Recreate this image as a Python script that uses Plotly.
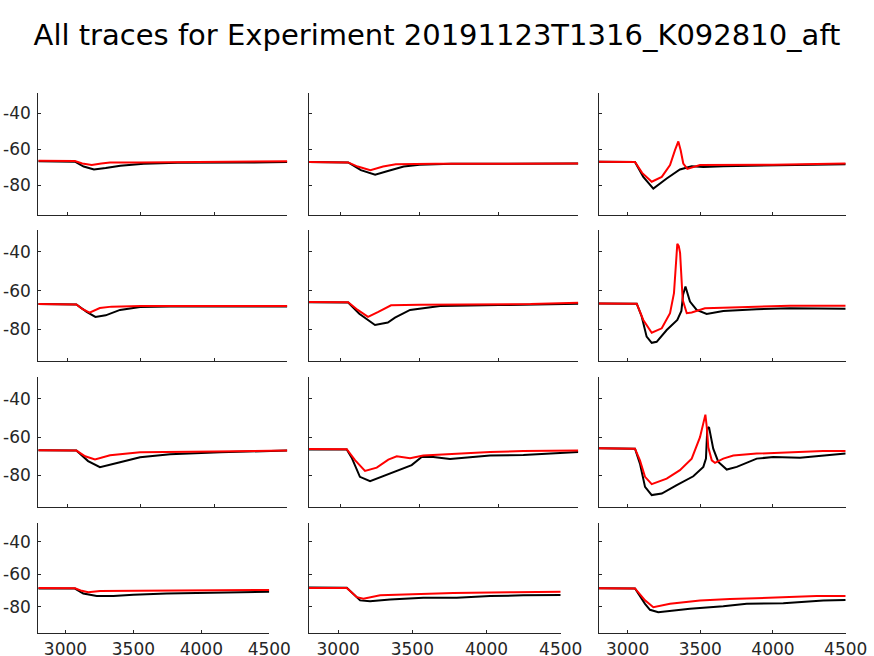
import plotly.graph_objects as go

# ---------------- data ----------------
title_text = "All traces for Experiment 20191123T1316_K092810_aft"
x_ticks = [3000, 3500, 4000, 4500]
y_ticks = [-40, -60, -80]
x_range = [2800, 4500]
y_range = [-96.5, -28.7]

# row 1
x_k11 = [2800, 3050, 3110, 3180, 3260, 3360, 3520, 3750, 4200, 4500]
y_k11 = [-66.6, -66.8, -69.5, -71.1, -70.3, -69.1, -67.9, -67.4, -67.3, -67.0]
x_r11 = [2800, 3050, 3100, 3165, 3230, 3290, 3500, 4000, 4500]
y_r11 = [-66.3, -66.4, -67.8, -68.7, -67.8, -67.3, -67.2, -66.8, -66.6]

x_k12 = [2800, 3050, 3130, 3220, 3300, 3400, 3500, 3700, 4500]
y_k12 = [-67.0, -67.2, -71.5, -74.0, -72.0, -69.5, -68.5, -68.0, -67.8]
x_r12 = [2800, 3050, 3110, 3190, 3270, 3350, 3600, 4500]
y_r12 = [-67.0, -67.2, -69.5, -71.5, -69.5, -68.2, -68.0, -67.8]

x_k13 = [2800, 3051, 3108, 3177, 3269, 3360, 3441, 3521, 3658, 3888, 4117, 4344, 4500]
y_k13 = [-66.9, -67.0, -75.2, -81.7, -76.1, -71.1, -69.3, -69.7, -69.3, -68.9, -68.9, -68.3, -68.2]
x_r13 = [2800, 3051, 3100, 3166, 3235, 3292, 3326, 3349, 3365, 3383, 3411, 3464, 3498, 4000, 4500]
y_r13 = [-66.9, -67.0, -73.0, -77.9, -75.2, -68.7, -60.4, -55.6, -60.5, -67.8, -70.8, -69.7, -68.7, -68.5, -67.8]

# row 2
x_k21 = [2800, 3060, 3130, 3190, 3260, 3358, 3495, 3700, 4500]
y_k21 = [-67.0, -67.2, -71.0, -73.6, -72.8, -70.0, -68.5, -68.2, -68.2]
x_r21 = [2800, 3060, 3100, 3150, 3220, 3300, 3500, 4500]
y_r21 = [-67.0, -67.2, -69.5, -71.4, -69.0, -68.3, -68.0, -68.0]

x_k22 = [2800, 3050, 3120, 3219, 3300, 3345, 3440, 3629, 4000, 4500]
y_k22 = [-66.0, -66.2, -72.0, -77.8, -76.5, -74.0, -70.0, -68.0, -67.5, -66.8]
x_r22 = [2800, 3050, 3110, 3175, 3240, 3320, 3500, 4200, 4500]
y_r22 = [-65.9, -66.0, -70.0, -73.6, -71.0, -67.6, -67.3, -67.0, -66.3]

x_k23 = [2800, 3063, 3097, 3131, 3166, 3200, 3269, 3342, 3370, 3382, 3398, 3429, 3475, 3544, 3658, 3888, 4117, 4500]
y_k23 = [-66.7, -66.8, -73.4, -83.8, -87.0, -86.5, -80.4, -75.2, -70.5, -62.0, -57.9, -65.7, -70.0, -72.1, -70.6, -69.6, -69.1, -69.4]
x_r23 = [2800, 3063, 3108, 3166, 3235, 3292, 3319, 3333, 3342, 3352, 3361, 3379, 3407, 3441, 3532, 3773, 4117, 4500]
y_r23 = [-66.7, -66.8, -75.2, -81.8, -79.5, -71.7, -61.3, -45.0, -35.8, -37.0, -40.5, -64.8, -71.7, -71.3, -69.1, -68.6, -67.9, -67.9]

# row 3
x_k31 = [2800, 3060, 3140, 3221, 3358, 3495, 3700, 4041, 4500]
y_k31 = [-66.9, -67.0, -72.5, -75.7, -73.1, -70.5, -68.9, -67.9, -67.0]
x_r31 = [2800, 3060, 3120, 3187, 3290, 3495, 4000, 4500]
y_r31 = [-66.9, -67.0, -70.0, -71.6, -69.5, -67.9, -67.5, -67.0]

x_k32 = [2800, 3041, 3072, 3124, 3188, 3271, 3377, 3450, 3513, 3586, 3692, 3797, 3944, 4154, 4364, 4500]
y_k32 = [-66.4, -66.5, -70.7, -80.7, -83.0, -80.3, -77.2, -74.6, -70.3, -70.3, -71.4, -70.7, -69.6, -69.3, -68.3, -67.8]
x_r32 = [2800, 3041, 3093, 3156, 3230, 3303, 3356, 3398, 3440, 3523, 3734, 3944, 4154, 4500]
y_r32 = [-66.2, -66.3, -72.0, -77.6, -75.9, -71.7, -70.0, -70.7, -71.0, -69.6, -68.6, -67.8, -67.2, -67.0]

x_k33 = [2800, 3051, 3085, 3120, 3166, 3235, 3338, 3452, 3521, 3539, 3548, 3560, 3589, 3624, 3682, 3751, 3888, 4002, 4186, 4344, 4500]
y_k33 = [-65.8, -66.0, -73.8, -85.9, -90.2, -89.4, -85.0, -80.4, -75.5, -71.2, -55.6, -54.8, -66.0, -72.9, -76.9, -75.5, -71.2, -70.4, -70.7, -69.6, -68.6]
x_r33 = [2800, 3051, 3085, 3120, 3166, 3269, 3360, 3441, 3498, 3520, 3535, 3545, 3555, 3579, 3601, 3658, 3727, 3888, 4117, 4344, 4500]
y_r33 = [-65.8, -66.0, -72.1, -80.7, -84.5, -81.6, -77.2, -71.2, -60.0, -53.0, -48.3, -55.0, -65.3, -72.1, -73.4, -71.2, -69.6, -68.6, -67.8, -67.2, -67.2]

# row 4
x_k41 = [2800, 3070, 3131, 3230, 3353, 3500, 3745, 3990, 4236, 4500]
y_k41 = [-68.8, -68.9, -72.0, -73.5, -73.5, -72.7, -72.0, -71.6, -70.8, -70.8]
x_r41 = [2800, 3070, 3120, 3168, 3254, 3745, 3843, 4500]
y_r41 = [-68.6, -68.7, -70.3, -71.2, -70.4, -70.2, -69.8, -69.8]

x_k42 = [2800, 3058, 3148, 3215, 3350, 3574, 3799, 4024, 4248, 4500]
y_k42 = [-68.2, -68.4, -76.2, -76.8, -75.6, -74.6, -74.6, -73.5, -73.1, -72.9]
x_r42 = [2800, 3058, 3126, 3170, 3283, 3463, 3776, 4181, 4500]
y_r42 = [-68.5, -68.6, -74.2, -75.2, -73.1, -72.5, -71.7, -71.1, -70.9]

x_k43 = [2800, 3051, 3120, 3154, 3211, 3429, 3658, 3819, 4071, 4346, 4500]
y_k43 = [-68.7, -68.8, -78.3, -82.0, -83.5, -81.4, -79.8, -78.3, -77.9, -76.2, -75.9]
x_r43 = [2800, 3051, 3120, 3177, 3292, 3498, 3704, 4002, 4300, 4500]
y_r43 = [-68.7, -68.8, -76.2, -80.4, -78.3, -76.2, -75.4, -74.6, -73.5, -73.5]

black_x = [[x_k11, x_k12, x_k13], [x_k21, x_k22, x_k23], [x_k31, x_k32, x_k33], [x_k41, x_k42, x_k43]]
black_y = [[y_k11, y_k12, y_k13], [y_k21, y_k22, y_k23], [y_k31, y_k32, y_k33], [y_k41, y_k42, y_k43]]
red_x = [[x_r11, x_r12, x_r13], [x_r21, x_r22, x_r23], [x_r31, x_r32, x_r33], [x_r41, x_r42, x_r43]]
red_y = [[y_r11, y_r12, y_r13], [y_r21, y_r22, y_r23], [y_r31, y_r32, y_r33], [y_r41, y_r42, y_r43]]

# ---------------- layout geometry (pixels) ----------------
W, H = 874, 656
col_left = [38.3, 308.5, 598.5]
col_right = [287.3, 578.3, 845.7]
col_right_last = [269.3, 560.7, 845.7]
row_top = [92.9, 230.0, 377.0, 523.4]
row_bot = [215.3, 361.2, 507.2, 633.3]

AX = "#262626"
FONT = "DejaVu Sans"

fig = go.Figure()
layout = {}
for r in range(4):
    for c in range(3):
        i = r * 3 + c + 1
        xa = "x" if i == 1 else f"x{i}"
        ya = "y" if i == 1 else f"y{i}"
        fig.add_trace(go.Scatter(x=black_x[r][c], y=black_y[r][c], mode="lines",
                                 line=dict(color="#000000", width=2),
                                 xaxis=xa, yaxis=ya, showlegend=False, hoverinfo="skip"))
        fig.add_trace(go.Scatter(x=red_x[r][c], y=red_y[r][c], mode="lines",
                                 line=dict(color="#ff0000", width=2),
                                 xaxis=xa, yaxis=ya, showlegend=False, hoverinfo="skip"))
        right = col_right_last[c] if r == 3 else col_right[c]
        xkey = "xaxis" if i == 1 else f"xaxis{i}"
        ykey = "yaxis" if i == 1 else f"yaxis{i}"
        layout[xkey] = dict(
            domain=[col_left[c] / W, right / W], anchor=ya, range=x_range,
            tickvals=x_ticks, ticktext=[str(v) for v in x_ticks],
            showticklabels=(r == 3), ticks="inside", ticklen=3, tickwidth=1,
            tickcolor=AX, showline=True, linecolor=AX, linewidth=1,
            showgrid=False, zeroline=False, automargin=False,
            tickfont=dict(family=FONT, size=17, color=AX),
        )
        layout[ykey] = dict(
            domain=[1 - row_bot[r] / H, 1 - row_top[r] / H], anchor=xa, range=y_range,
            tickvals=y_ticks, ticktext=[str(v) for v in y_ticks],
            showticklabels=(c == 0), ticks="inside", ticklen=3, tickwidth=1,
            tickcolor=AX, showline=True, linecolor=AX, linewidth=1,
            showgrid=False, zeroline=False, automargin=False,
            ticklabelstandoff=3,
            tickfont=dict(family=FONT, size=17, color=AX),
        )

fig.update_layout(**layout)
fig.update_layout(
    width=W, height=H, margin=dict(l=0, r=0, t=0, b=0, autoexpand=False),
    paper_bgcolor="white", plot_bgcolor="white", showlegend=False,
    title=dict(text=title_text, x=0.5, xanchor="center", y=1 - 35 / H, yanchor="middle",
               font=dict(family=FONT, size=29, color="#000000")),
)
fig.write_html("out.html")
